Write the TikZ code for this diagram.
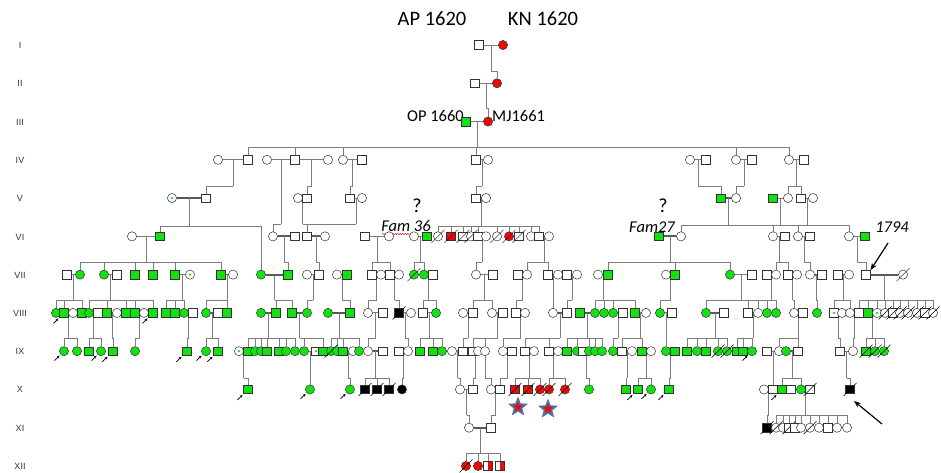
\documentclass[tikz,border=0pt]{standalone}
\usepackage{fontspec}
\setmainfont{Carlito}
\newfontfamily\labfont{Liberation Sans}
\usetikzlibrary{calc,shapes.geometric,arrows.meta,decorations.pathmorphing}
\pgfdeclarelayer{bg}
\pgfsetlayers{bg,main}
\definecolor{pgreen}{RGB}{20,225,20}
\definecolor{pred}{RGB}{235,10,10}
\definecolor{starblue}{RGB}{80,110,160}
\definecolor{lgray}{RGB}{125,125,125}
\tikzset{
 sym/.style={draw=black!80, line width=0.5pt, inner sep=0pt, fill=white},
 male/.style={sym, rectangle, minimum size=8.6pt},
 fem/.style={sym, circle, minimum size=9.2pt},
 g/.style={fill=pgreen},
 rd/.style={fill=pred},
 bk/.style={fill=black},
 dot/.style={path picture={\fill[pgreen] (path picture bounding box.center) circle (1.3pt);}},
 half/.style={path picture={\fill[pred] (path picture bounding box.north) rectangle (path picture bounding box.south east);}},
 ml/.style={draw=lgray, line width=0.8pt},
 thk/.style={draw=black!65, line width=2pt},
 dl/.style={draw=lgray, line width=0.8pt},
 slsh/.style={draw=black, line width=0.5pt},
 parr/.style={-{Stealth[length=2.8pt,width=2.6pt]}, line width=0.7pt, black},
 bigarr/.style={-{Stealth[length=7pt,width=5.5pt]}, line width=1.2pt, black},
 rl/.style={font=\labfont\fontsize{9}{10}\selectfont, text=black!80},
 big/.style={font=\fontsize{20.5}{23}\selectfont},
 mid/.style={font=\fontsize{16.5}{19}\selectfont, inner sep=0pt},
 ita/.style={font=\itshape\fontsize{16.5}{19}\selectfont},
 qm/.style={font=\fontsize{20}{22}\selectfont},
}
\newcommand\Sq[3][]{\node[male,#1] (r#2x#3) at (#3,{45+38.27*(#2-1)}) {};}
\newcommand\Ci[3][]{\node[fem,#1] (r#2x#3) at (#3,{45+38.27*(#2-1)}) {};}
\newcommand\Sqd[3][]{\Sq[#1]{#2}{#3}\draw[slsh] (r#2x#3.center) ++(-6.5,6.5) -- ++(13,-13);}
\newcommand\Cid[3][]{\Ci[#1]{#2}{#3}\draw[slsh] (r#2x#3.center) ++(-6.5,6.5) -- ++(13,-13);}
\newcommand\Cp[4][]{\begin{pgfonlayer}{bg}\draw[ml,#1] (r#2x#3) -- (r#2x#4);\end{pgfonlayer}}
\newcommand\Fam[5]{\begin{pgfonlayer}{bg}%
 \coordinate (fm) at ($(r#1x#2)!0.5!(r#1x#3)$);%
 \coordinate (fy) at (0,#4);%
 \draw[dl] (fm) -- (fm |- fy);%
 \foreach \kid in {#5}{\draw[dl] (fm |- fy) -| (\kid.north);}%
 \end{pgfonlayer}}
\newcommand\Pa[1]{\draw[parr] (#1.south west) ++(-6,6) -- ++(5,-5);}
\begin{document}
\begin{tikzpicture}[x=1pt,y=-1pt]
\useasboundingbox (0,0) rectangle (941,472);
% generation labels
\node[rl] (L1) at (20,45) {I};
\node[rl] (L2) at (20,83) {II};
\node[rl] (L3) at (20,122) {III};
\node[rl] (L4) at (20,160) {IV};
\node[rl] (L5) at (20,198) {V};
\node[rl] (L6) at (20,237) {VI};
\node[rl] (L7) at (20,275) {VII};
\node[rl] (L8) at (20,313) {VIII};
\node[rl] (L9) at (20,351) {IX};
\node[rl] (L10) at (20,389) {X};
\node[rl] (L11) at (20,428) {XI};
\node[rl] (L12) at (20,466) {XII};
% texts
\node[big] (tAP) at (432,19) {AP 1620};
\node[big] (tKN) at (543,19) {KN 1620};
\node[mid, anchor=east] (tOP) at (464,116) {OP 1660};
\node[mid, anchor=west] (tMJ) at (492,116) {MJ1661};
\node[qm] (q36) at (417,206) {?};
\node[ita] (f36) at (406,226) {Fam 36};
\draw[pred, line width=0.5pt, decorate, decoration={snake, amplitude=0.6pt, segment length=2.5pt}] (382,234) -- (411,234);
\node[qm] (q27) at (663,206) {?};
\node[ita] (f27) at (652,227) {Fam27};
\node[ita] (t1794) at (892,227) {1794};
% I - III
\Sq{1}{479} \Ci[rd]{1}{503}
\Sq{2}{475} \Ci[rd]{2}{497}
\Sq[g]{3}{466} \Ci[rd]{3}{488}
% IV
\Ci{4}{218} \Sq{4}{248} \Ci{4}{267} \Sq{4}{295} \Ci{4}{328} \Ci{4}{343} \Sq{4}{362} \Sq{4}{476} \Ci{4}{488} \Ci{4}{690} \Sq{4}{706} \Ci{4}{736} \Sq{4}{752} \Ci{4}{789} \Sq{4}{804}
% V
\Ci[dot]{5}{172} \Sq{5}{206} \Ci{5}{298} \Sq{5}{307} \Sq{5}{350} \Ci{5}{362} \Sq{5}{476} \Ci{5}{486} \Sq[g]{5}{721} \Ci{5}{736} \Sq[g]{5}{773} \Ci{5}{788} \Sq{5}{801} \Ci{5}{813}
% VI
\Ci{6}{132} \Sq[g]{6}{160} \Ci{6}{273} \Sq{6}{295} \Sq{6}{307} \Ci{6}{325} \Sq{6}{365} \Ci{6}{389} \Ci{6}{414} \Sq[g]{6}{427}
\Cid{6}{438} \Sqd[rd]{6}{451} \Sqd{6}{463} \Cid{6}{471} \Sq{6}{478} \Ci{6}{486} \Cid{6}{497} \Cid[rd]{6}{509} \Sqd{6}{519} \Ci{6}{531} \Sq{6}{539} \Ci{6}{549}
\Sq[g]{6}{659} \Ci{6}{681} \Ci{6}{773} \Sq{6}{785} \Ci{6}{798} \Sq{6}{810} \Ci{6}{849} \Sq[g]{6}{865}
% VII
\Sq{7}{67} \Ci[g]{7}{80} \Ci[g]{7}{104} \Sq{7}{117} \Sq[g]{7}{135} \Sq[g]{7}{153} \Sq[g]{7}{175} \Ci[dot]{7}{190} \Sq[g]{7}{221} \Ci{7}{233}
\Ci[g]{7}{261} \Sq[g]{7}{288} \Ci{7}{307} \Sq{7}{319} \Ci{7}{337} \Sq[g]{7}{347} \Sq{7}{372} \Ci{7}{381} \Sq{7}{390} \Ci{7}{399} \Cid[g]{7}{414} \Ci[g]{7}{424} \Sq{7}{433}
\Ci{7}{476} \Sq{7}{493} \Sq{7}{518} \Ci{7}{527} \Sq{7}{548} \Ci{7}{558} \Sq{7}{567} \Ci{7}{577} \Ci{7}{598} \Sq[g]{7}{608}
\Ci{7}{666} \Sq[g]{7}{675} \Ci[g]{7}{730} \Sq{7}{752} \Sq{7}{767} \Ci{7}{776} \Sq{7}{788} \Ci{7}{797} \Ci{7}{810} \Sq{7}{822} \Sq{7}{838} \Ci{7}{849} \Sq{7}{866} \Cid{7}{903}
% VIII
\Ci[g]{8}{56} \Sq[g]{8}{64} \Ci{8}{73} \Sq[g]{8}{82} \Ci[g]{8}{89} \Sq{8}{98} \Sq[g]{8}{107} \Ci{8}{117} \Sq[g]{8}{126} \Sq[g]{8}{135} \Ci{8}{144} \Sq[g]{8}{153}
\Sq[g]{8}{166} \Sq[g]{8}{175} \Ci[g]{8}{184} \Sq{8}{193} \Ci[g]{8}{206} \Sq{8}{218} \Sq[g]{8}{227}
\Ci[g]{8}{261} \Sq[g]{8}{276} \Sq[g]{8}{292} \Ci[g]{8}{307} \Ci[g]{8}{328} \Sq[g]{8}{350} \Ci{8}{368} \Sq{8}{383} \Sqd[bk]{8}{399} \Ci{8}{411} \Sq{8}{423} \Ci[g]{8}{436}
\Ci{8}{463} \Sq{8}{473} \Ci{8}{492} \Sq{8}{503} \Sq{8}{516} \Ci{8}{525} \Ci{8}{553} \Sq{8}{567} \Sq[g]{8}{580} \Ci[g]{8}{595} \Ci[g]{8}{604} \Ci[g]{8}{613} \Sq{8}{623} \Sq[g]{8}{635} \Ci{8}{646}
\Ci[g]{8}{660} \Sq{8}{672} \Ci[g]{8}{706} \Sq{8}{724} \Sq{8}{748} \Ci{8}{758} \Ci[g]{8}{767} \Ci[g]{8}{776} \Ci{8}{794} \Sq{8}{803} \Ci[g]{8}{817}
\Sq[dot]{8}{834} \Ci{8}{842} \Ci{8}{850} \Sq{8}{859} \Sq[g]{8}{868} \Ci[dot]{8}{877} \Cid{8}{885} \Sqd{8}{893} \Cid{8}{900} \Cid{8}{908} \Cid{8}{917} \Sqd{8}{925} \Cid{8}{933}
% IX
\Ci[g]{9}{64} \Ci[g]{9}{77} \Sq[g]{9}{89} \Ci[g]{9}{101} \Sq[g]{9}{113} \Ci[g]{9}{135} \Sq[g]{9}{187} \Ci[g]{9}{206} \Sq[g]{9}{218}
\Ci[dot]{9}{239} \Sq[g]{9}{248} \Ci[g]{9}{255} \Ci[g]{9}{261} \Sq[g]{9}{267} \Sq[g]{9}{279} \Ci[g]{9}{286} \Ci[g]{9}{295} \Ci[g]{9}{304} \Sq[dot]{9}{316} \Sq[g]{9}{323}
\Cid[g]{9}{331} \Ci[g]{9}{337} \Sq[g]{9}{343} \Ci{9}{353} \Ci[g]{9}{359} \Ci{9}{368} \Sq{9}{383} \Sq{9}{399} \Ci{9}{408} \Sq[g]{9}{420} \Sq[g]{9}{433} \Ci[g]{9}{442}
\Ci{9}{452} \Sq{9}{463} \Sq{9}{473} \Ci{9}{478} \Ci{9}{485} \Ci{9}{503} \Sq{9}{512} \Sq{9}{525} \Ci{9}{534} \Sq{9}{549} \Ci{9}{558}
\Sq[g]{9}{567} \Ci[g]{9}{577} \Sq{9}{583} \Ci[g]{9}{589} \Ci[g]{9}{595} \Ci[g]{9}{602} \Ci[g]{9}{613} \Sq{9}{622} \Ci{9}{632} \Sq[g]{9}{642} \Ci{9}{651} \Ci[g]{9}{666} \Sq[g]{9}{675}
\Sq[g]{9}{687} \Ci[g]{9}{697} \Sq[g]{9}{706} \Cid[g]{9}{718} \Cid[g]{9}{727} \Sq[g]{9}{737} \Sq[g]{9}{743} \Ci[g]{9}{752} \Sq{9}{767} \Ci{9}{779} \Ci[g]{9}{786} \Sq{9}{798}
\Sq{9}{840} \Ci{9}{853} \Sqd[g]{9}{866} \Cid[g]{9}{875} \Cid[g]{9}{884}
% X
\Sq[g]{10}{248} \Ci[g]{10}{310} \Ci[g]{10}{350} \Sqd[bk]{10}{365} \Sqd[bk]{10}{377} \Sqd[bk]{10}{389} \Ci[bk]{10}{402}
\Ci{10}{460} \Sq{10}{473} \Ci{10}{491} \Sq{10}{500} \Sqd[rd]{10}{515} \Sqd[rd]{10}{528} \Cid[rd]{10}{540} \Cid[rd]{10}{549} \Cid[rd]{10}{565} \Ci[g]{10}{589}
\Sq[g]{10}{626} \Sq[g]{10}{638} \Ci[g]{10}{651} \Sq[g]{10}{669} \Ci{10}{764} \Sq{10}{773} \Sq[g]{10}{782} \Sq{10}{791} \Ci[g]{10}{801} \Sqd{10}{810} \Sqd[bk]{10}{850}
% XI
\Ci{11}{469} \Sq{11}{491} \Sqd[bk]{11}{767} \Cid{11}{776} \Ci{11}{783} \Sqd{11}{789} \Sq{11}{795} \Ci{11}{801} \Cid{11}{810} \Ci{11}{819} \Sq{11}{828} \Ci{11}{837} \Ci{11}{847}
% XII
\Cid[rd]{12}{466} \Ci[rd]{12}{478} \Sq[half]{12}{488} \Sq[half]{12}{500}
% stars
\node[star, star points=5, star point ratio=2.3, minimum size=16pt, inner sep=0pt, fill=pred, draw=starblue, line width=1.8pt] (st1) at (518,407) {};
\node[star, star points=5, star point ratio=2.3, minimum size=16pt, inner sep=0pt, fill=pred, draw=starblue, line width=1.8pt] (st2) at (548,409) {};
% marriages
\Cp{1}{479}{503} \Cp{2}{475}{497} \Cp{3}{466}{488}
\Cp{4}{218}{248} \Cp{4}{267}{295} \Cp{4}{295}{328} \Cp{4}{343}{362} \Cp{4}{476}{488} \Cp{4}{690}{706} \Cp{4}{736}{752} \Cp{4}{789}{804}
\Cp[thk]{5}{172}{206} \Cp{5}{298}{307} \Cp{5}{350}{362} \Cp{5}{476}{486} \Cp[thk]{5}{721}{736} \Cp{5}{773}{788} \Cp{5}{801}{813}
\Cp{6}{132}{160} \Cp[thk]{6}{273}{295} \Cp[thk]{6}{307}{325} \Cp{6}{365}{389} \Cp{6}{414}{427} \Cp{6}{478}{486} \Cp{6}{539}{549} \Cp[thk]{6}{659}{681} \Cp{6}{773}{785} \Cp{6}{798}{810} \Cp{6}{849}{865}
\Cp{7}{67}{80} \Cp{7}{104}{117} \Cp{7}{175}{190} \Cp{7}{221}{233} \Cp[thk]{7}{261}{288} \Cp{7}{307}{319} \Cp{7}{337}{347} \Cp{7}{372}{381} \Cp{7}{390}{399} \Cp{7}{424}{433} \Cp{7}{476}{493} \Cp{7}{518}{527} \Cp{7}{548}{558} \Cp{7}{567}{577} \Cp{7}{598}{608} \Cp{7}{666}{675} \Cp{7}{730}{752} \Cp{7}{767}{776} \Cp{7}{788}{797} \Cp[thk]{7}{810}{822} \Cp{7}{838}{849} \Cp[thk]{7}{866}{903}
\Cp{8}{64}{73} \Cp{8}{89}{98} \Cp{8}{107}{117} \Cp{8}{135}{144} \Cp{8}{184}{193} \Cp[thk]{8}{206}{218} \Cp[thk]{8}{261}{276} \Cp[thk]{8}{292}{307} \Cp[thk]{8}{328}{350} \Cp{8}{368}{383} \Cp{8}{399}{411} \Cp{8}{423}{436} \Cp{8}{463}{473} \Cp{8}{492}{503} \Cp{8}{516}{525} \Cp[thk]{8}{553}{567} \Cp[thk]{8}{580}{595} \Cp{8}{613}{623} \Cp{8}{635}{646} \Cp{8}{660}{672} \Cp[thk]{8}{706}{724} \Cp{8}{748}{758} \Cp{8}{794}{803} \Cp{8}{834}{842} \Cp{8}{850}{859} \Cp{8}{868}{877}
\Cp[thk]{9}{239}{248} \Cp{9}{304}{316} \Cp{9}{343}{353} \Cp[thk]{9}{368}{383} \Cp{9}{399}{408} \Cp[thk]{9}{452}{463} \Cp{9}{473}{478} \Cp{9}{503}{512} \Cp{9}{525}{534} \Cp{9}{549}{558} \Cp{9}{583}{589} \Cp{9}{622}{632} \Cp{9}{642}{651} \Cp[thk]{9}{666}{675} \Cp{9}{767}{779} \Cp[thk]{9}{786}{798} \Cp{9}{840}{853}
\Cp{10}{460}{473} \Cp{10}{491}{500} \Cp{10}{764}{773} \Cp{10}{801}{810}
\Cp[thk]{11}{469}{491}
% descents
\Fam{1}{479}{503}{71}{r2x497}
\Fam{2}{475}{497}{108}{r3x488}
\Fam{3}{466}{488}{147}{r4x248,r4x295,r4x343,r4x476,r4x736,r4x789}
\Fam{4}{218}{248}{186}{r5x206}
\Fam{4}{267}{295}{224}{r6x273}
\Fam{4}{295}{328}{186}{r5x307}
\Fam{4}{343}{362}{186}{r5x350}
\Fam{4}{476}{488}{186}{r5x476}
\Fam{4}{690}{706}{186}{r5x721}
\Fam{4}{736}{752}{186}{r5x736}
\Fam{4}{789}{804}{186}{r5x788,r5x801}
\Fam{5}{172}{206}{226}{r6x160,r7x261}
\Fam{5}{298}{307}{224}{r6x307}
\Fam{5}{350}{362}{224}{r6x307}
\Fam{5}{476}{486}{226}{r6x438,r6x451,r6x463,r6x471,r6x478,r6x497,r6x509,r6x519,r6x531,r6x539}
\Fam{5}{721}{736}{225}{r6x681,r6x849}
\Fam{5}{773}{788}{225}{r6x773}
\Fam{5}{801}{813}{225}{r6x798}
\Fam{6}{132}{160}{262}{r7x80,r7x104,r7x135,r7x153,r7x175,r7x221}
\Fam{6}{273}{295}{262}{r7x288}
\Fam{6}{307}{325}{262}{r7x319}
\Fam{6}{365}{389}{262}{r7x372,r7x390}
\Fam{6}{414}{427}{262}{r7x414,r7x424}
\Fam{6}{478}{486}{262}{r7x476}
\Fam{6}{539}{549}{262}{r7x527,r7x548}
\Fam{6}{659}{681}{262}{r7x608,r7x675,r7x730}
\Fam{6}{773}{785}{262}{r7x776,r7x788}
\Fam{6}{798}{810}{262}{r7x810}
\Fam{6}{849}{865}{262}{r7x866}
\Fam{7}{67}{80}{300}{r8x56,r8x64,r8x82}
\Fam{7}{104}{117}{300}{r8x89,r8x107,r8x126,r8x135,r8x153}
\Fam{7}{175}{190}{300}{r8x166,r8x175,r8x184}
\Fam{7}{221}{233}{300}{r8x206,r8x227}
\Fam{7}{261}{288}{300}{r8x276,r8x292}
\Fam{7}{307}{319}{300}{r8x307}
\Fam{7}{337}{347}{300}{r8x350}
\Fam{7}{372}{381}{300}{r8x368}
\Fam{7}{390}{399}{300}{r8x399}
\Fam{7}{424}{433}{300}{r8x423,r8x436}
\Fam{7}{476}{493}{300}{r8x473,r8x492}
\Fam{7}{518}{527}{300}{r8x516}
\Fam{7}{548}{558}{300}{r8x553}
\Fam{7}{567}{577}{300}{r8x567}
\Fam{7}{598}{608}{300}{r8x595,r8x604,r8x613,r8x635}
\Fam{7}{666}{675}{300}{r8x660}
\Fam{7}{730}{752}{300}{r8x706,r8x748,r8x767,r8x776}
\Fam{7}{767}{776}{300}{r8x758}
\Fam{7}{788}{797}{300}{r8x794}
\Fam{7}{810}{822}{300}{r8x817}
\Fam{7}{838}{849}{300}{r8x834,r8x850}
\Fam{7}{866}{903}{300}{r8x859,r8x868,r8x877,r8x885,r8x893,r8x900,r8x908,r8x917,r8x925,r8x933}
\Fam{8}{64}{73}{338}{r9x64,r9x77}
\Fam{8}{89}{98}{338}{r9x89,r9x101}
\Fam{8}{107}{117}{338}{r9x113}
\Fam{8}{135}{144}{338}{r9x135}
\Fam{8}{184}{193}{338}{r9x187}
\Fam{8}{206}{218}{338}{r9x206,r9x218}
\Fam{8}{261}{276}{338}{r9x248,r9x255,r9x261,r9x267,r9x279,r9x286,r9x295}
\Fam{8}{292}{307}{338}{r9x304,r9x323}
\Fam{8}{328}{350}{338}{r9x331,r9x337,r9x343,r9x359}
\Fam{8}{368}{383}{338}{r9x368}
\Fam{8}{399}{411}{338}{r9x408}
\Fam{8}{423}{436}{338}{r9x420,r9x433,r9x442}
\Fam{8}{463}{473}{338}{r9x463}
\Fam{8}{492}{503}{338}{r9x473,r9x485}
\Fam{8}{516}{525}{338}{r9x503}
\Fam{8}{553}{567}{338}{r9x525,r9x549}
\Fam{8}{580}{595}{338}{r9x567,r9x577,r9x589,r9x595,r9x602}
\Fam{8}{613}{623}{338}{r9x613}
\Fam{8}{635}{646}{338}{r9x622,r9x642}
\Fam{8}{660}{672}{338}{r9x666}
\Fam{8}{706}{724}{338}{r9x687,r9x697,r9x706,r9x718,r9x727}
\Fam{8}{748}{758}{338}{r9x737,r9x743,r9x752}
\Fam{8}{794}{803}{338}{r9x779,r9x798}
\Fam{8}{834}{842}{338}{r9x840}
\Fam{8}{850}{859}{338}{r9x853}
\Fam{8}{868}{877}{338}{r9x866,r9x875,r9x884}
\Fam{9}{239}{248}{378}{r10x248}
\Fam{9}{304}{316}{378}{r10x310}
\Fam{9}{343}{353}{378}{r10x350}
\Fam{9}{368}{383}{378}{r10x365,r10x377,r10x389}
\Fam{9}{399}{408}{378}{r10x402}
\Fam{9}{452}{463}{378}{r10x460}
\Fam{9}{473}{478}{378}{r10x473}
\Fam{9}{503}{512}{378}{r10x500}
\Fam{9}{525}{534}{378}{r10x515,r10x528,r10x540}
\Fam{9}{549}{558}{378}{r10x549,r10x565}
\Fam{9}{583}{589}{378}{r10x589}
\Fam{9}{622}{632}{378}{r10x626}
\Fam{9}{642}{651}{378}{r10x638,r10x651}
\Fam{9}{666}{675}{378}{r10x669}
\Fam{9}{767}{779}{378}{r10x773}
\Fam{9}{786}{798}{378}{r10x782,r10x801}
\Fam{9}{840}{853}{378}{r10x850}
\Fam{10}{460}{473}{415}{r11x469}
\Fam{10}{491}{500}{415}{r11x491}
\Fam{10}{764}{773}{415}{r11x767}
\Fam{10}{801}{810}{415}{r11x776,r11x783,r11x789,r11x795,r11x801,r11x810,r11x819,r11x828,r11x837,r11x847}
\Fam{11}{469}{491}{453}{r12x466,r12x478,r12x488,r12x500}
\begin{pgfonlayer}{bg}
\coordinate (sy378) at (0,378);
\draw[dl] (r9x485.south) -- (r9x485 |- sy378) -| (r10x491.north);
\end{pgfonlayer}
% proband arrows
\Pa{r8x64} \Pa{r8x153} \Pa{r9x64} \Pa{r9x101} \Pa{r9x113} \Pa{r9x187} \Pa{r9x206} \Pa{r9x218} \Pa{r9x752}
\Pa{r10x248} \Pa{r10x310} \Pa{r10x350} \Pa{r10x638} \Pa{r10x651} \Pa{r10x669} \Pa{r10x782}
% big arrows
\coordinate (a1tail) at (888,243);
\draw[bigarr] (a1tail) -- (r7x866.north east);
\coordinate (a2tail) at (882,424);
\coordinate (a2tip) at (854,401);
\draw[bigarr] (a2tail) -- (a2tip);
\end{tikzpicture}
\end{document}
